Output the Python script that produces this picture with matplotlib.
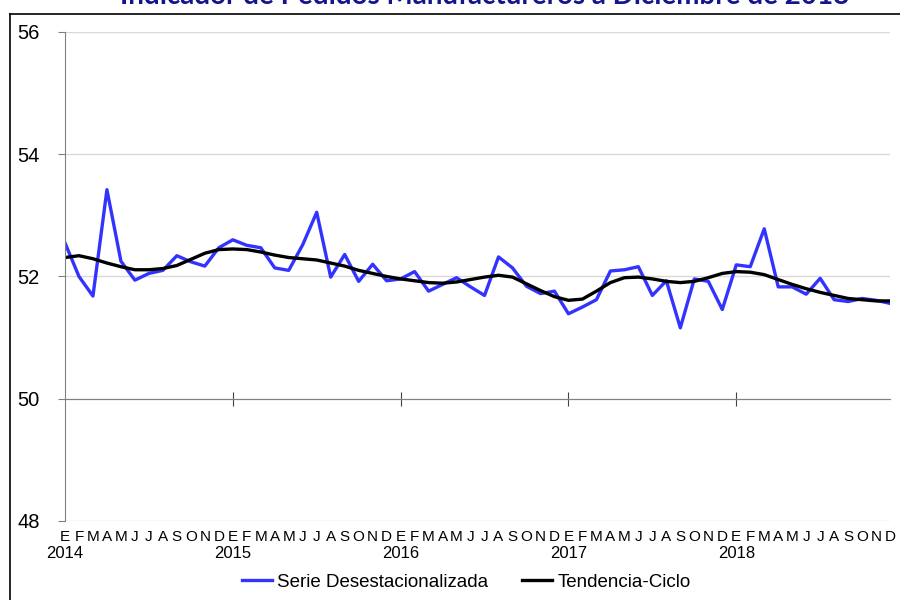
import matplotlib.pyplot as plt
import matplotlib.transforms as mtransforms
from matplotlib.lines import Line2D

# monthly data, Jan 2014 .. Dec 2018
years = ['2014', '2015', '2016', '2017', '2018']
month_letters = ['E', 'F', 'M', 'A', 'M', 'J', 'J', 'A', 'S', 'O', 'N', 'D']

serie_desest = [
    52.55, 52.00, 51.68, 53.42, 52.25, 51.94, 52.05, 52.10, 52.34, 52.24, 52.17, 52.47,
    52.60, 52.51, 52.47, 52.14, 52.10, 52.52, 53.05, 51.99, 52.36, 51.92, 52.20, 51.93,
    51.96, 52.08, 51.76, 51.87, 51.98, 51.83, 51.69, 52.32, 52.14, 51.84, 51.72, 51.76,
    51.39, 51.50, 51.62, 52.09, 52.11, 52.16, 51.69, 51.93, 51.16, 51.96, 51.92, 51.46,
    52.19, 52.16, 52.78, 51.83, 51.83, 51.71, 51.97, 51.62, 51.59, 51.64, 51.61, 51.56,
]
tendencia_ciclo = [
    52.31, 52.34, 52.29, 52.22, 52.16, 52.11, 52.11, 52.13, 52.18, 52.28, 52.38, 52.44,
    52.45, 52.44, 52.40, 52.35, 52.31, 52.29, 52.27, 52.22, 52.17, 52.10, 52.05, 52.00,
    51.96, 51.93, 51.90, 51.89, 51.91, 51.95, 51.99, 52.02, 51.99, 51.88, 51.77, 51.67,
    51.61, 51.63, 51.76, 51.90, 51.98, 51.99, 51.96, 51.92, 51.90, 51.92, 51.98, 52.05,
    52.08, 52.07, 52.03, 51.95, 51.87, 51.80, 51.74, 51.69, 51.64, 51.62, 51.60, 51.60,
]

x = list(range(len(serie_desest)))

fig = plt.figure(figsize=(9, 6), dpi=100)
ax = fig.add_axes([0.0722, 0.1317, 0.9168, 0.815])

ax.plot(x, serie_desest, color='#3333FF', lw=2.4, label='Serie Desestacionalizada')
ax.plot(x, tendencia_ciclo, color='black', lw=2.4, label='Tendencia-Ciclo')

ax.set_xlim(0, len(x) - 1)
ax.set_ylim(48, 56)
ax.set_yticks([48, 50, 52, 54, 56])
ax.tick_params(axis='y', direction='out', length=5, color='#808080',
               labelsize=14.5, pad=13)
for lab in ax.get_yticklabels():
    lab.set_family('Liberation Sans')
ax.yaxis.grid(True, color='#D9D9D9', lw=1)
ax.set_axisbelow(True)

for s in ['top', 'right']:
    ax.spines[s].set_visible(False)
ax.spines['left'].set_color('#808080')
ax.spines['bottom'].set_position(('data', 50))
ax.spines['bottom'].set_color('#808080')
ax.set_xticks([12, 24, 36, 48])
ax.set_xticklabels([])
ax.tick_params(axis='x', direction='inout', length=10, color='#404040')

# month letters and years under the plot
trans = mtransforms.blended_transform_factory(ax.transData, ax.transAxes)
for i in x:
    ax.text(i, -0.033, month_letters[i % 12], transform=trans, ha='center', va='center',
            fontsize=11, family='Liberation Sans')
for k, yr in enumerate(years):
    ax.text(k * 12, -0.067, yr, transform=trans, ha='center', va='center',
            fontsize=12, family='Liberation Sans')

fig.legend(loc='center', bbox_to_anchor=(0.518, 0.03), ncol=2, frameon=False,
           prop={'family': 'Liberation Sans', 'size': 13.5},
           handlelength=1.6, handletextpad=0.3, columnspacing=1.8)

# outer border and title
fig.add_artist(Line2D([10 / 900, 10 / 900], [0, 1 - 14 / 600], color='black', lw=1.2))
fig.add_artist(Line2D([10 / 900, 1], [1 - 14 / 600, 1 - 14 / 600], color='black', lw=1.2))
fig.text(0.538, 0.993, 'Indicador de Pedidos Manufactureros a Diciembre de 2018',
         ha='center', va='baseline', fontsize=20, fontweight='bold',
         family='Lato', color='#14148C')

fig.savefig('out.png', dpi=100)
